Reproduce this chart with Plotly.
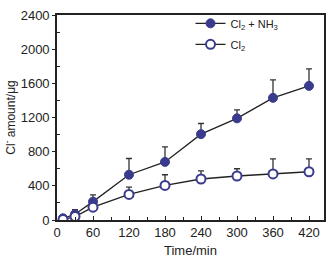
import plotly.graph_objects as go

time_min = [10, 30, 60, 120, 180, 240, 300, 360, 420]
cl2_nh3 = [20, 67, 215, 530, 680, 1005, 1190, 1430, 1570]
cl2_nh3_err = [15, 55, 80, 190, 175, 125, 100, 210, 200]
cl2 = [5, 40, 150, 300, 405, 480, 515, 540, 565]
cl2_err = [10, 50, 40, 85, 125, 95, 85, 175, 150]

x_ticks = [0, 60, 120, 180, 240, 300, 360, 420]
y_ticks = [0, 400, 800, 1200, 1600, 2000, 2400]

mk = "#3a3b8c"
font = "Liberation Sans, Arial, sans-serif"

fig = go.Figure()
fig.add_trace(go.Scatter(
    x=time_min, y=cl2_nh3, mode="lines+markers", name="Cl<sub>2</sub> + NH<sub>3</sub>",
    legendgroup="a",
    line=dict(color="#222222", width=1.3),
    marker=dict(symbol="circle", size=9, color=mk, line=dict(color=mk, width=1)),
    error_y=dict(type="data", symmetric=False, array=cl2_nh3_err, arrayminus=[0]*9,
                 color="#333333", thickness=1.3, width=3),
))
fig.add_trace(go.Scatter(
    x=time_min, y=cl2, mode="lines+markers", name="Cl<sub>2</sub>",
    legendgroup="b",
    line=dict(color="#222222", width=1.3),
    marker=dict(symbol="circle", size=9, color="white", line=dict(color=mk, width=2)),
    error_y=dict(type="data", symmetric=False, array=cl2_err, arrayminus=[0]*9,
                 color="#333333", thickness=1.3, width=3),
))

fig.update_layout(
    width=334, height=264,
    margin=dict(l=57, r=9, t=8, b=42),
    paper_bgcolor="white", plot_bgcolor="white",
    font=dict(family=font, size=13, color="#222222"),
    showlegend=True,
    legend=dict(x=0.50, y=1.03, xanchor="left", yanchor="top",
                bgcolor="rgba(0,0,0,0)", font=dict(size=11),
                itemwidth=30, traceorder="grouped", tracegroupgap=2),
)
fig.update_xaxes(
    range=[0, 445], tickvals=x_ticks, ticktext=[str(v) for v in x_ticks],
    automargin=True,
    showline=True, linecolor="#222222", linewidth=1.6, mirror=True,
    ticks="inside", ticklen=4, tickwidth=1.3, tickcolor="#222222",
    minor=dict(tickvals=[30, 90, 150, 210, 270, 330, 390], ticks="inside", ticklen=3,
               tickwidth=1.2, tickcolor="#222222"),
    showgrid=False, zeroline=False,
    title=dict(text="Time/min", font=dict(size=13), standoff=6),
)
fig.update_yaxes(
    range=[0, 2400], tickvals=y_ticks, ticktext=[str(v) for v in y_ticks],
    automargin=True,
    showline=True, linecolor="#222222", linewidth=1.6, mirror=True,
    ticks="outside", ticklen=3, tickwidth=1.3, tickcolor="#222222",
    minor=dict(tickvals=[200, 600, 1000, 1400, 1800, 2200], ticks="inside", ticklen=3,
               tickwidth=1.2, tickcolor="#222222"),
    showgrid=False, zeroline=False,
    title=dict(text="Cl<sup>-</sup> amount/μg", font=dict(size=12), standoff=2),
)

fig.write_html("out.html", config={"displayModeBar": False},
               post_script="document.body.style.margin='0';")
